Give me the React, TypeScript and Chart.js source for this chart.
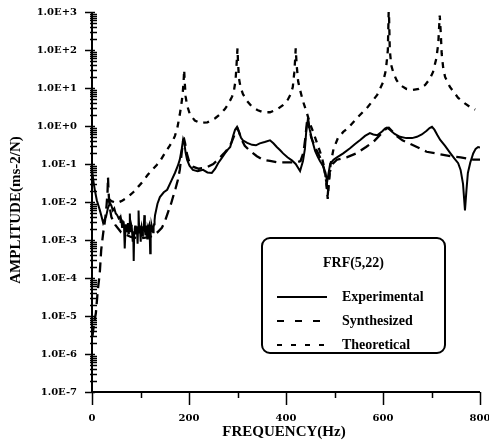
import { useEffect, useRef } from 'react';
import { Chart, registerables } from 'chart.js';

Chart.register(...registerables);

const W = 489;
const H = 443;

// ---------- data ----------
const expFreq = [0, 3, 6, 10, 16, 20, 23, 26, 29, 33, 37, 40, 43, 46, 49, 52, 55,
  58, 59, 60, 61, 62, 63, 64, 65, 66, 67, 68, 69, 70, 71, 72, 73, 74, 75, 76, 77, 78, 79, 80, 81, 82, 83, 84, 85, 86, 87, 88, 89, 90, 91, 92, 93, 94, 95, 96, 97, 98, 99, 100, 101, 102, 103, 104, 105, 106, 107, 108, 109, 110, 111, 112, 113, 114, 115, 116, 117, 118, 119, 120, 121, 122, 123, 124, 125, 126, 127, 128, 129, 130,
  135, 140, 148, 155, 163, 171, 177, 181, 185, 188, 190, 193, 196, 201, 208, 218, 229, 238, 247, 254, 260, 267, 274, 280, 285, 291, 295, 299, 303, 307, 311, 320, 330, 338, 346, 356, 367, 374, 381, 388, 394, 403, 412, 420, 429, 435, 439, 442, 445, 449, 454, 460, 465, 470, 476, 481, 485, 488, 491, 498, 505, 518, 532, 543, 553, 563, 573, 580, 588, 598, 604, 608, 614, 624, 635, 648, 660, 670, 680, 690, 696, 701, 706, 712, 718, 728, 738, 747, 755, 760, 765, 769, 772, 775, 780, 786, 791, 796, 800];
const expAmp = [0.07, 0.035, 0.02, 0.011, 0.0062, 0.004, 0.0028, 0.0035, 0.0041, 0.007, 0.0094, 0.008, 0.006, 0.0068, 0.005, 0.0045, 0.0037,
  0.0041, 0.0028, 0.0035, 0.003, 0.0022, 0.0033, 0.0026, 0.0031, 0.0024, 0.0012, 0.0006, 0.0019, 0.0026, 0.0017, 0.002, 0.0024, 0.0028, 0.0015, 0.0018, 0.0026, 0.005, 0.0021, 0.0016, 0.0025, 0.0022, 0.0014, 0.0009, 0.0017, 0.00028, 0.0015, 0.0019, 0.0024, 0.0014, 0.0018, 0.0023, 0.0016, 0.0008, 0.0021, 0.006, 0.0024, 0.0015, 0.0019, 0.0009, 0.0017, 0.0022, 0.0017, 0.0013, 0.0023, 0.0019, 0.0026, 0.0045, 0.0018, 0.0014, 0.0024, 0.002, 0.0016, 0.0011, 0.002, 0.0018, 0.0023, 0.0025, 0.0015, 0.00045, 0.0019, 0.0017, 0.0024, 0.0021, 0.0018, 0.0016, 0.0022, 0.0026, 0.0033, 0.0045,
  0.009, 0.0135, 0.018, 0.021, 0.035, 0.058, 0.09, 0.13, 0.25, 0.45, 0.38, 0.2, 0.13, 0.09, 0.07, 0.065, 0.07, 0.06, 0.058, 0.075, 0.105, 0.14, 0.19, 0.24, 0.28, 0.55, 0.8, 0.95, 0.7, 0.5, 0.42, 0.36, 0.32, 0.31, 0.35, 0.38, 0.42, 0.35, 0.28, 0.23, 0.19, 0.15, 0.125, 0.1, 0.065, 0.12, 0.25, 0.8, 1.45, 0.8, 0.42, 0.22, 0.16, 0.12, 0.09, 0.06, 0.035, 0.06, 0.1, 0.13, 0.15, 0.19, 0.26, 0.34, 0.43, 0.55, 0.65, 0.6, 0.57, 0.72, 0.85, 0.9, 0.8, 0.62, 0.52, 0.48, 0.48, 0.52, 0.6, 0.75, 0.88, 0.95, 0.8, 0.58, 0.43, 0.3, 0.2, 0.14, 0.105, 0.07, 0.03, 0.006, 0.02, 0.058, 0.11, 0.19, 0.25, 0.28, 0.27];

const synFreq = [1, 4, 8, 12, 16, 19, 23, 27, 30, 32, 33, 34, 36, 40, 48, 60, 80, 100, 120, 135, 144, 150, 157, 163, 167, 172, 177, 181, 185, 188, 190, 192, 195, 200, 208, 220, 235, 250, 262, 272, 280, 287, 293, 297, 300, 303, 308, 315, 326, 340, 352, 367, 383, 398, 412, 422, 430, 436, 440, 443, 445, 448, 452, 460, 470, 478, 483, 486, 490, 496, 505, 525, 545, 565, 580, 592, 602, 608, 612, 618, 628, 640, 652, 670, 690, 718, 740, 760, 786, 800];
const synAmp = [3e-6, 6e-6, 1.2e-5, 4.8e-5, 1.35e-4, 5.5e-4, 1.5e-3, 3.4e-3, 0.008, 0.018, 0.045, 0.02, 0.008, 0.004, 0.0025, 0.0016, 0.0012, 0.0011, 0.0012, 0.0016, 0.0021, 0.003, 0.0055, 0.009, 0.0135, 0.022, 0.038, 0.07, 0.2, 0.42, 0.45, 0.35, 0.2, 0.12, 0.085, 0.075, 0.08, 0.1, 0.14, 0.19, 0.25, 0.35, 0.55, 0.8, 0.88, 0.7, 0.45, 0.3, 0.22, 0.16, 0.13, 0.12, 0.11, 0.11, 0.11, 0.11, 0.12, 0.2, 0.5, 1.2, 1.7, 0.9, 0.5, 0.28, 0.15, 0.08, 0.035, 0.015, 0.06, 0.1, 0.13, 0.15, 0.19, 0.28, 0.38, 0.55, 0.75, 0.88, 0.9, 0.75, 0.55, 0.42, 0.36, 0.28, 0.21, 0.18, 0.16, 0.15, 0.13, 0.13];

const theoFreq = [35, 40, 52, 63, 74, 85, 95, 105, 115, 125, 134, 142, 150, 160, 167, 171, 176, 181, 184, 187, 189, 190, 191, 193, 196, 202, 212, 223, 238, 254, 265, 274, 282, 289, 293, 296, 298, 300, 301, 303, 306, 311, 320, 330, 342, 353, 367, 381, 393, 404, 410, 414, 417, 419, 420, 422, 425, 429, 435, 443, 450, 456, 466, 474, 480, 484, 486, 488, 492, 498, 507, 518, 528, 548, 569, 588, 600, 606, 610, 612, 614, 617, 621, 628, 635, 648, 660, 674, 687, 696, 703, 710, 714, 717, 719, 721, 724, 728, 738, 755, 768, 779, 790];
const theoAmp = [0.012, 0.0105, 0.0094, 0.011, 0.0135, 0.018, 0.025, 0.035, 0.052, 0.072, 0.096, 0.13, 0.19, 0.3, 0.42, 0.55, 0.9, 2.0, 3.5, 7, 16, 30, 16, 6, 3.5, 2.0, 1.4, 1.2, 1.25, 1.6, 2.1, 2.8, 4, 6, 9, 16, 40, 110, 50, 18, 11, 7, 4.5, 3.2, 2.6, 2.3, 2.3, 2.7, 3.5, 5, 7, 10.6, 25, 60, 110, 40, 15, 8.9, 4.5, 2.2, 1.1, 0.7, 0.3, 0.15, 0.07, 0.025, 0.012, 0.03, 0.1, 0.25, 0.48, 0.7, 0.89, 1.7, 3.2, 6.6, 14, 30, 100, 1500, 100, 40, 26, 16, 12, 9.5, 8.9, 9.5, 12, 17, 26, 60, 150, 800, 300, 80, 35, 19.5, 10.7, 5.5, 4, 3.2, 2.7];

const xTickValues = [0, 200, 400, 600, 800];
const xMinorTickValues = [100, 300, 500, 700];
const yTickValues = [1e-7, 1e-6, 1e-5, 1e-4, 1e-3, 1e-2, 1e-1, 1e0, 1e1, 1e2, 1e3];
const yTickLabels = ['1.0E-7', '1.0E-6', '1.0E-5', '1.0E-4', '1.0E-3', '1.0E-2', '1.0E-1', '1.0E+0', '1.0E+1', '1.0E+2', '1.0E+3'];
const xTitle = 'FREQUENCY(Hz)';
const yTitle = 'AMPLITUDE(ms-2/N)';
const legendTitle = 'FRF(5,22)';
const seriesNames = ['Experimental', 'Synthesized', 'Theoretical'];

// ---------- styles ----------
const SYN_DASH = [10, 6];
const THEO_DASH = [6, 6];
const tickFont = { family: '"DejaVu Serif"', weight: 'bold' as const, size: 10 };

function pts(xs: number[], ys: number[]) {
  return xs.map((x, i) => ({ x, y: ys[i] }));
}

const overlay = {
  id: 'overlay',
  afterDraw(chart: any) {
    const ctx: CanvasRenderingContext2D = chart.ctx;
    const xs = chart.scales.x;
    const ys = chart.scales.y;
    const a = chart.chartArea;
    const line = (x1: number, y1: number, x2: number, y2: number) => {
      ctx.beginPath();
      ctx.moveTo(x1, y1);
      ctx.lineTo(x2, y2);
      ctx.stroke();
    };
    ctx.save();
    ctx.strokeStyle = '#000';
    ctx.fillStyle = '#000';
    ctx.setLineDash([]);
    // axes
    ctx.lineWidth = 2;
    line(a.left, a.top, a.left, a.bottom + 1);
    line(a.left - 1, a.bottom, a.right, a.bottom);
    // y ticks
    ctx.lineWidth = 1.5;
    for (let i = 0; i < yTickValues.length; i++) {
      const v = yTickValues[i];
      const py = Math.round(ys.getPixelForValue(v)) + 0.5;
      line(a.left - 7, py, a.left + 3, py);
      if (i < yTickValues.length - 1) {
        for (let m = 2; m <= 9; m++) {
          const pm = Math.round(ys.getPixelForValue(v * m)) + 0.5;
          line(a.left - 2, pm, a.left + 5, pm);
        }
      }
    }
    // x ticks
    for (const v of xTickValues) {
      const px = Math.round(xs.getPixelForValue(v)) + 0.5;
      line(px, a.bottom, px, a.bottom + 13);
    }
    for (const v of xMinorTickValues) {
      const px = Math.round(xs.getPixelForValue(v)) + 0.5;
      line(px, a.bottom, px, a.bottom + 6);
    }
    // titles
    ctx.font = 'bold 15px "Liberation Serif"';
    ctx.textAlign = 'center';
    ctx.textBaseline = 'middle';
    ctx.fillText(xTitle, 284, 432);
    ctx.save();
    ctx.translate(16, 210);
    ctx.rotate(-Math.PI / 2);
    ctx.fillText(yTitle, 0, 0);
    ctx.restore();

    // legend box
    const bx = 262, by = 238, bw = 183, bh = 115, r = 8;
    ctx.lineWidth = 2;
    ctx.beginPath();
    ctx.moveTo(bx + r, by);
    ctx.lineTo(bx + bw - r, by);
    ctx.arcTo(bx + bw, by, bx + bw, by + r, r);
    ctx.lineTo(bx + bw, by + bh - r);
    ctx.arcTo(bx + bw, by + bh, bx + bw - r, by + bh, r);
    ctx.lineTo(bx + r, by + bh);
    ctx.arcTo(bx, by + bh, bx, by + bh - r, r);
    ctx.lineTo(bx, by + r);
    ctx.arcTo(bx, by, bx + r, by, r);
    ctx.closePath();
    ctx.fillStyle = '#fff';
    ctx.fill();
    ctx.stroke();
    ctx.fillStyle = '#000';
    ctx.font = 'bold 14px "Liberation Serif"';
    ctx.textAlign = 'center';
    ctx.fillText(legendTitle, bx + bw / 2, 263);
    const rowsY = [297, 321, 345];
    const dashes = [[], [7, 11], [5, 9]];
    ctx.textAlign = 'left';
    for (let i = 0; i < 3; i++) {
      ctx.setLineDash(dashes[i]);
      ctx.lineWidth = 2;
      line(277, rowsY[i], 327, rowsY[i]);
      ctx.setLineDash([]);
      ctx.fillText(seriesNames[i], 342, rowsY[i]);
    }
    ctx.restore();
  },
};

export default function App() {
  const ref = useRef<HTMLCanvasElement>(null);
  useEffect(() => {
    const canvas = ref.current!;
    const common = { borderColor: '#000', backgroundColor: '#000', borderWidth: 2.3, pointRadius: 0, tension: 0, fill: false };
    const chart = new Chart(canvas, {
      type: 'line',
      data: {
        datasets: [
          { ...common, label: seriesNames[0], data: pts(expFreq, expAmp), borderWidth: 2 },
          { ...common, label: seriesNames[1], data: pts(synFreq, synAmp), borderDash: SYN_DASH },
          { ...common, label: seriesNames[2], data: pts(theoFreq, theoAmp), borderDash: THEO_DASH },
        ],
      },
      options: {
        responsive: false,
        animation: false,
        devicePixelRatio: 1,
        layout: { padding: { left: 0, top: 12, right: 9, bottom: 0 } },
        plugins: { legend: { display: false }, tooltip: { enabled: false }, title: { display: false } },
        scales: {
          x: {
            type: 'linear',
            min: 0,
            max: 800,
            grid: { display: false, drawTicks: false },
            border: { display: false },
            afterBuildTicks: (s: any) => {
              s.ticks = xTickValues.map((v) => ({ value: v }));
            },
            afterFit: (s: any) => {
              s.height = 51;
              s.paddingLeft = 0;
              s.paddingRight = 0;
            },
            ticks: {
              font: tickFont,
              color: '#000',
              padding: 20,
              maxRotation: 0,
              autoSkip: false,
              callback: (v: any) => String(v),
            },
          },
          y: {
            type: 'logarithmic',
            min: 1e-7,
            max: 1e3,
            grid: { display: false, drawTicks: false },
            border: { display: false },
            afterBuildTicks: (s: any) => {
              s.ticks = yTickValues.map((v) => ({ value: v, major: true }));
            },
            afterFit: (s: any) => {
              s.width = 92;
              s.paddingTop = 0;
              s.paddingBottom = 0;
            },
            ticks: {
              font: tickFont,
              color: '#000',
              padding: 15,
              autoSkip: false,
              callback: (_v: any, i: number) => yTickLabels[i] ?? '',
            },
          },
        },
      },
      plugins: [overlay],
    } as any);
    return () => chart.destroy();
  }, []);
  return (
    <div style={{ position: 'absolute', left: 0, top: 0, width: W, height: H, background: '#fff' }}>
      <canvas ref={ref} width={W} height={H} style={{ display: 'block', width: W, height: H }} />
    </div>
  );
}
